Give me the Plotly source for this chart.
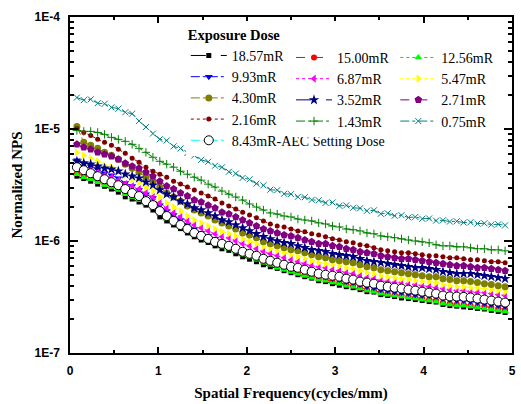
import plotly.graph_objects as go

# ---------------- data (NPS values in units of 1e-7) ----------------
NPS_UNIT = 1e-7

freq = [0.078, 0.156, 0.234, 0.313, 0.391, 0.469, 0.547, 0.625, 0.703, 0.781,
        0.859, 0.938, 1.016, 1.094, 1.172, 1.250, 1.328, 1.406, 1.484, 1.563,
        1.641, 1.719, 1.797, 1.875, 1.953, 2.031, 2.109, 2.188, 2.266, 2.344,
        2.422, 2.500, 2.578, 2.656, 2.734, 2.813, 2.891, 2.969, 3.047, 3.125,
        3.203, 3.281, 3.359, 3.438, 3.516, 3.594, 3.672, 3.750, 3.828, 3.906,
        3.984, 4.063, 4.141, 4.219, 4.297, 4.375, 4.453, 4.531, 4.609, 4.688,
        4.766, 4.844, 4.922]

dose_labels = ["18.57mR", "15.00mR", "12.56mR", "9.93mR", "6.87mR", "5.47mR",
               "4.30mR", "3.52mR", "2.71mR", "2.16mR", "1.43mR", "0.75mR",
               "8.43mR-AEC Setting Dose"]

nps_18_57 = [37.9, 36.1, 34.2, 32.2, 30.8, 29.1, 27.3, 24.8, 23.7, 22.3,
             20.9, 18.9, 16.4, 15.1, 13.9, 12.9, 11.8, 10.9, 10.2, 9.70,
             9.05, 8.52, 8.25, 7.69, 7.23, 6.88, 6.53, 6.14, 5.89, 5.70,
             5.43, 5.21, 5.00, 4.80, 4.66, 4.42, 4.34, 4.16, 4.03, 3.91,
             3.83, 3.68, 3.53, 3.50, 3.32, 3.26, 3.19, 3.10, 3.06, 3.00,
             2.94, 2.88, 2.85, 2.71, 2.65, 2.62, 2.58, 2.55, 2.50, 2.47,
             2.40, 2.35, 2.30]

nps_15_00 = [40.3, 37.9, 36.4, 34.2, 32.2, 30.9, 29.1, 26.8, 25.2, 23.7,
             21.8, 20.1, 17.8, 16.1, 14.8, 13.6, 12.6, 11.6, 10.9, 10.2,
             9.63, 9.05, 8.69, 8.17, 7.69, 7.38, 6.94, 6.53, 6.27, 5.89,
             5.65, 5.43, 5.21, 5.00, 4.80, 4.61, 4.52, 4.34, 4.25, 4.08,
             3.99, 3.83, 3.68, 3.61, 3.46, 3.39, 3.32, 3.26, 3.19, 3.13,
             3.06, 3.00, 2.94, 2.82, 2.77, 2.71, 2.71, 2.65, 2.60, 2.60,
             2.55, 2.50, 2.45]

nps_12_56 = [39.5, 37.1, 35.6, 33.5, 31.5, 30.3, 28.5, 26.2, 24.7, 23.2,
             21.4, 19.7, 17.4, 15.7, 14.5, 13.35, 12.3, 11.3, 10.7, 10.0,
             9.44, 8.87, 8.52, 8.01, 7.53, 7.23, 6.80, 6.40, 6.14, 5.77,
             5.54, 5.32, 5.11, 4.90, 4.70, 4.52, 4.42, 4.25, 4.16, 3.99,
             3.91, 3.76, 3.61, 3.53, 3.39, 3.32, 3.26, 3.19, 3.13, 3.06,
             3.00, 2.94, 2.88, 2.77, 2.71, 2.65, 2.65, 2.60, 2.55, 2.50,
             2.45, 2.40, 2.35]

nps_9_93 = [52.6, 49.5, 46.5, 43.7, 40.3, 38.7, 36.4, 32.9, 30.9, 28.5,
            26.2, 24.2, 20.9, 18.5, 17.1, 15.4, 13.9, 12.8, 11.8, 11.1,
            10.45, 9.83, 9.44, 8.69, 8.17, 7.85, 7.38, 6.94, 6.66, 6.40,
            6.14, 5.89, 5.65, 5.43, 5.21, 4.90, 4.80, 4.61, 4.52, 4.34,
            4.25, 4.08, 3.91, 3.83, 3.68, 3.61, 3.53, 3.46, 3.39, 3.32,
            3.26, 3.26, 3.19, 3.06, 3.00, 2.94, 2.94, 2.88, 2.82, 2.77,
            2.71, 2.65, 2.60]

nps_6_87 = [47.5, 44.6, 42.9, 41.1, 38.7, 37.1, 34.9, 32.2, 30.9, 29.1,
            26.8, 24.7, 21.8, 19.7, 17.8, 16.4, 15.1, 13.9, 13.1, 12.3,
            11.6, 10.9, 10.7, 10.0, 9.44, 9.05, 8.52, 8.01, 7.69, 7.38,
            7.08, 6.80, 6.53, 6.27, 6.01, 5.89, 5.77, 5.54, 5.43, 5.21,
            5.11, 4.90, 4.70, 4.61, 4.42, 4.34, 4.25, 4.25, 4.16, 4.08,
            3.99, 3.91, 3.83, 3.76, 3.68, 3.61, 3.61, 3.53, 3.46, 3.46,
            3.39, 3.32, 3.26]

nps_5_47 = [61.9, 58.3, 54.8, 51.5, 47.5, 45.6, 42.0, 38.7, 35.6, 33.5,
            30.3, 27.9, 24.7, 21.8, 20.1, 18.5, 16.7, 15.4, 14.5, 13.6,
            12.8, 12.1, 11.6, 11.1, 10.45, 10.0, 9.44, 8.87, 8.52, 8.17,
            7.85, 7.53, 7.23, 6.94, 6.66, 6.40, 6.27, 6.14, 6.01, 5.77,
            5.65, 5.43, 5.21, 5.11, 4.90, 4.80, 4.70, 4.61, 4.52, 4.42,
            4.34, 4.34, 4.25, 4.08, 3.99, 3.91, 3.91, 3.83, 3.83, 3.76,
            3.68, 3.61, 3.53]

nps_4_30 = [105.4, 76.0, 71.5, 67.2, 61.9, 58.3, 53.7, 48.5, 44.6, 41.1,
            37.1, 34.2, 30.3, 26.8, 24.7, 22.7, 20.5, 18.9, 17.8, 16.7,
            15.4, 14.5, 13.6, 12.8, 11.8, 11.3, 10.7, 9.83, 9.44, 9.05,
            8.69, 8.34, 8.17, 7.85, 7.53, 7.23, 7.08, 6.80, 6.66, 6.53,
            6.40, 6.14, 5.89, 5.77, 5.54, 5.43, 5.32, 5.21, 5.11, 5.00,
            4.90, 4.80, 4.80, 4.61, 4.52, 4.42, 4.42, 4.34, 4.25, 4.16,
            4.08, 3.99, 3.91]

nps_3_52 = [51.5, 49.5, 48.5, 46.5, 44.6, 43.7, 42.0, 39.5, 37.9, 36.4,
            33.5, 31.5, 28.5, 26.2, 24.7, 22.7, 21.4, 19.7, 18.9, 17.8,
            16.7, 15.4, 14.8, 13.9, 13.1, 12.3, 11.6, 10.9, 10.45, 10.0,
            9.63, 9.44, 9.05, 8.69, 8.34, 8.17, 8.01, 7.69, 7.53, 7.38,
            7.23, 6.94, 6.66, 6.53, 6.40, 6.27, 6.14, 6.01, 5.89, 5.77,
            5.77, 5.65, 5.54, 5.32, 5.21, 5.11, 5.11, 5.11, 5.00, 4.90,
            4.80, 4.70, 4.61]

nps_2_71 = [73.0, 68.6, 65.8, 61.9, 59.5, 57.0, 53.7, 49.5, 46.5, 44.6,
            41.1, 37.9, 34.2, 30.9, 29.1, 26.8, 25.2, 23.2, 22.3, 20.9,
            19.7, 18.1, 17.4, 16.4, 15.4, 14.5, 13.6, 12.8, 12.3, 11.8,
            11.3, 11.1, 10.7, 10.2, 9.83, 9.44, 9.44, 9.05, 8.87, 8.52,
            8.34, 8.01, 7.85, 7.69, 7.38, 7.23, 7.08, 6.94, 6.94, 6.80,
            6.66, 6.53, 6.40, 6.27, 6.14, 6.01, 6.01, 5.89, 5.77, 5.77,
            5.65, 5.54, 5.43]

nps_2_16 = [101.2, 93.2, 87.7, 80.8, 76.0, 71.5, 65.8, 60.7, 54.8, 50.5,
            45.6, 42.0, 39.5, 37.1, 34.2, 32.2, 30.3, 28.5, 26.8, 25.2,
            23.7, 21.8, 20.5, 19.3, 18.1, 17.1, 16.1, 15.1, 14.2, 13.6,
            13.35, 12.8, 12.3, 12.1, 11.6, 11.3, 10.9, 10.45, 10.2, 9.83,
            9.63, 9.25, 9.05, 8.69, 8.34, 8.17, 8.01, 7.85, 7.85, 7.69,
            7.53, 7.38, 7.38, 7.23, 7.08, 7.08, 6.94, 6.80, 6.80, 6.66,
            6.53, 6.53, 6.40]

nps_1_43 = [97.1, 95.2, 95.2, 93.2, 89.5, 84.2, 80.8, 77.6, 73.0, 67.2,
            61.9, 55.9, 51.5, 48.5, 45.6, 42.0, 39.5, 37.1, 34.9, 32.2,
            30.3, 27.9, 26.2, 24.7, 23.2, 21.4, 20.1, 18.9, 17.8, 17.4,
            16.7, 16.4, 15.7, 15.4, 15.1, 14.5, 14.2, 13.6, 13.35, 12.8,
            12.6, 12.3, 11.8, 11.6, 11.1, 10.9, 10.7, 10.45, 10.2, 10.0,
            9.83, 9.63, 9.25, 9.05, 9.05, 8.87, 8.87, 8.69, 8.52, 8.52,
            8.34, 8.34, 8.17]

nps_0_75 = [190.8, 181.0, 184.0, 170.0, 168.0, 156.0, 152.0, 141.0, 137.0, 118.0,
            104.0, 91.0, 81.0, 79.0, 70.0, 67.0, 61.0, 58.0, 53.0, 51.0,
            47.0, 45.5, 41.5, 40.0, 36.6, 35.5, 32.5, 31.4, 28.7, 28.4,
            26.4, 26.2, 24.8, 24.6, 23.3, 23.1, 21.9, 22.1, 20.6, 20.8,
            19.8, 19.6, 18.6, 18.8, 17.5, 17.7, 16.8, 17.0, 16.2, 16.4,
            15.8, 15.9, 15.2, 15.3, 14.9, 15.0, 14.6, 14.7, 14.3, 14.4,
            14.0, 14.1, 13.8]

nps_8_43_aec = [45.6, 42.9, 40.3, 37.9, 35.6, 33.5, 31.5, 29.1, 26.8, 25.2,
                22.7, 20.9, 18.5, 16.7, 15.1, 13.9, 12.8, 11.8, 11.1, 10.45,
                9.83, 9.44, 9.05, 8.52, 8.01, 7.69, 7.38, 6.94, 6.66, 6.40,
                6.14, 5.89, 5.77, 5.54, 5.32, 5.11, 5.00, 4.90, 4.80, 4.61,
                4.52, 4.34, 4.25, 4.16, 3.99, 3.91, 3.83, 3.76, 3.68, 3.61,
                3.53, 3.46, 3.39, 3.26, 3.20, 3.19, 3.17, 3.13, 3.06, 3.00,
                2.94, 2.88, 2.82]

y_tick_values = [1e-7, 1e-6, 1e-5, 1e-4]
y_tick_labels = ["1E-7", "1E-6", "1E-5", "1E-4"]
x_tick_values = [0, 1, 2, 3, 4, 5]

series_values = [nps_18_57, nps_15_00, nps_12_56, nps_9_93, nps_6_87, nps_5_47,
                 nps_4_30, nps_3_52, nps_2_71, nps_2_16, nps_1_43, nps_0_75,
                 nps_8_43_aec]

# ---------------- styles ----------------
# (line colour, dash, marker symbol, marker size, marker fill, marker outline, legend column)
styles = [
    ("#000000", "longdash", "square", 5, "#000000", None, "legend"),
    ("#FF0000", "dash", "circle", 6, "#FF0000", None, "legend2"),
    ("#00E000", "dot", "triangle-up", 7, "#00FF00", None, "legend3"),
    ("#0000FF", "dashdot", "triangle-down", 7, "#0000FF", None, "legend"),
    ("#FF00FF", "dot", "triangle-left", 7, "#FF00FF", None, "legend2"),
    ("#FFFF00", "dot", "triangle-right", 7, "#FFFF00", None, "legend3"),
    ("#808000", "dashdot", "circle", 7, "#808000", None, "legend"),
    ("#000080", "longdash", "star", 8, "#000080", None, "legend2"),
    ("#800080", "dash", "pentagon", 8, "#800080", None, "legend3"),
    ("#800000", "dot", "circle", 5, "#800000", None, "legend"),
    ("#008000", "dashdot", "cross-thin", 6, "#008000", "#008000", "legend2"),
    ("#008080", "dashdot", "x-thin", 6, "#008080", "#008080", "legend3"),
    ("#00FFFF", "dashdot", "circle", 9, "#FFFFFF", "#000000", "legend"),
]

fig = go.Figure()
for label, vals, (lc, dash, sym, msize, mfill, mline, leg) in zip(dose_labels, series_values, styles):
    fig.add_trace(go.Scatter(
        x=freq,
        y=[v * NPS_UNIT for v in vals],
        mode="lines+markers",
        name=label,
        legend=leg,
        line=dict(color=lc, width=1, dash=dash),
        marker=dict(symbol=sym, size=msize, color=mfill,
                    line=dict(width=1 if mline else 0, color=mline or mfill)),
    ))

axis_font = dict(family="Liberation Sans, Arial, sans-serif", size=12, color="black", weight="bold")
title_font = dict(family="Liberation Serif, Times New Roman, serif", size=15, color="black", weight="bold")
legend_font = dict(family="Liberation Serif, Times New Roman, serif", size=14, color="black")

common_legend = dict(orientation="v", xanchor="left", yanchor="top",
                     bgcolor="#FFFFFF", borderwidth=0, font=legend_font,
                     itemwidth=36, tracegroupgap=0,
                     itemclick=False, itemdoubleclick=False)

fig.update_layout(
    width=521, height=404,
    margin=dict(l=70, r=5, t=17, b=49),
    paper_bgcolor="white", plot_bgcolor="white",
    showlegend=True,
    legend=dict(common_legend, x=0.262, y=0.988,
                title=dict(text="Exposure Dose", side="top",
                           font=dict(family="Liberation Serif, Times New Roman, serif",
                                     size=14.5, color="black", weight="bold"))),
    legend2=dict(common_legend, x=0.500, y=0.926),
    legend3=dict(common_legend, x=0.736, y=0.926),
    xaxis=dict(
        range=[0, 5], tickvals=x_tick_values,
        ticks="inside", ticklen=6, tickwidth=1.5, tickcolor="black",
        showline=True, linewidth=1.5, linecolor="black", mirror="ticks",
        showgrid=False, zeroline=False,
        minor=dict(tickvals=[0.5, 1.5, 2.5, 3.5, 4.5], ticks="inside", ticklen=3,
                   tickwidth=1.5, tickcolor="black", showgrid=False),
        tickfont=axis_font, ticklabelstandoff=6,
        title=dict(text="Spatial Frequency(cycles/mm)", font=title_font, standoff=10),
    ),
    yaxis=dict(
        type="log", range=[-7, -4],
        tickvals=y_tick_values, ticktext=y_tick_labels,
        ticks="inside", ticklen=8, tickwidth=1.5, tickcolor="black",
        showline=True, linewidth=1.5, linecolor="black", mirror="ticks",
        showgrid=False, zeroline=False,
        minor=dict(tickvals=[k * 10.0 ** e for e in (-7, -6, -5) for k in range(2, 10)],
                   ticks="inside", ticklen=4, tickwidth=1.5, tickcolor="black", showgrid=False),
        tickfont=axis_font, ticklabelstandoff=6,
        title=dict(text="Normalized NPS", font=title_font, standoff=8),
    ),
)

fig.write_html("out.html", config={"displayModeBar": False},
               post_script="document.body.style.margin='0px';")
